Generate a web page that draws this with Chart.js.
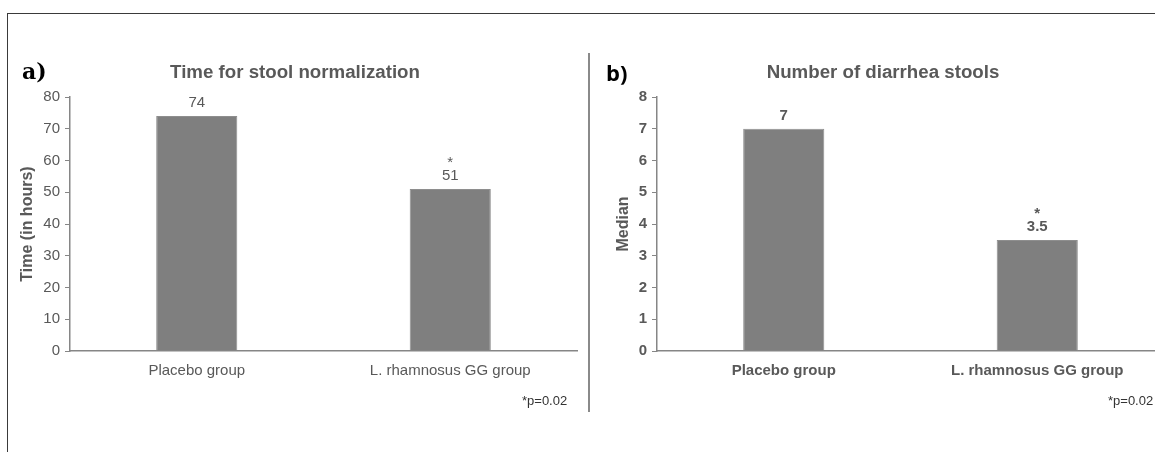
<!DOCTYPE html>
<html lang="en">
<head>
    <meta charset="UTF-8">
    <title>Stool normalization and diarrhea stools</title>
    <script src="https://cdn.jsdelivr.net/npm/chart.js"></script>
    <style>
        html, body { margin: 0; padding: 0; background: #fff; }
        body { width: 1155px; height: 452px; position: relative; overflow: hidden; font-family: 'Liberation Sans', Arial, sans-serif; }
        .frame { position: absolute; left: 7px; top: 13px; right: -10px; bottom: -10px; border-top: 1.5px solid #3a3a3a; border-left: 1.5px solid #3a3a3a; }
        .divider { position: absolute; left: 588px; top: 53px; width: 1.5px; height: 359px; background: #8a8a8a; }
        .box { position: absolute; }
        .panel-tag { position: absolute; font-weight: bold; font-size: 22px; color: #000; }
        .title { position: absolute; font-weight: bold; font-size: 18.7px; color: #595959; transform: translateX(-50%); white-space: nowrap; }
        .note { position: absolute; font-size: 13px; color: #333; white-space: nowrap; }
    </style>
</head>
<body>
    <div class="frame"></div>
    <div class="divider"></div>

    <div class="box" style="left:0; top:0; width:590px; height:452px;">
        <canvas id="chartA"></canvas>
    </div>
    <div class="box" style="left:590px; top:0; width:580px; height:452px;">
        <canvas id="chartB"></canvas>
    </div>

    <div class="panel-tag" style="left:22px; top:58px; font-family:'DejaVu Serif', serif;">a)</div>
    <div class="title" style="left:295px; top:61px;">Time for stool normalization</div>
    <div class="note" style="left:522px; top:393px;">*p=0.02</div>

    <div class="panel-tag" style="left:606px; top:57px; font-family:'Open Sans', sans-serif;">b)</div>
    <div class="title" style="left:883px; top:61px;">Number of diarrhea stools</div>
    <div class="note" style="left:1108px; top:393px;">*p=0.02</div>

    <script>
        // data
        const groups = ['Placebo group', 'L. rhamnosus GG group'];
        const timeHours = [74, 51];
        const diarrheaMedian = [7, 3.5];
        const significance = ['', '*'];
        const timeTicks = [0, 10, 20, 30, 40, 50, 60, 70, 80];
        const medianTicks = [0, 1, 2, 3, 4, 5, 6, 7, 8];

        const textColor = '#595959';
        const axisColor = '#868686';
        const barColor = '#7f7f7f';

        // value + significance mark above each bar
        const valueLabels = {
            id: 'valueLabels',
            afterDatasetsDraw(chart, args, opts) {
                const ctx = chart.ctx;
                const meta = chart.getDatasetMeta(0);
                const values = chart.data.datasets[0].data;
                ctx.save();
                ctx.fillStyle = textColor;
                ctx.textAlign = 'center';
                ctx.textBaseline = 'middle';
                meta.data.forEach((bar, i) => {
                    ctx.font = opts.font;
                    ctx.fillText(String(values[i]), bar.x, bar.y - 13);
                    if (opts.marks[i]) {
                        ctx.fillText(opts.marks[i], bar.x, bar.y - 26);
                    }
                });
                ctx.restore();
            }
        };

        function makeChart(id, values, ticks, yTitle, bold, yWidth, titlePad, padRight) {
            const weight = bold ? 'bold' : 'normal';
            const font = { family: 'Liberation Sans', size: 15, weight: weight };
            return new Chart(document.getElementById(id), {
                type: 'bar',
                data: {
                    labels: groups,
                    datasets: [{
                        data: values,
                        backgroundColor: barColor,
                        borderColor: '#8e8e8e',
                        borderWidth: 1,
                        barPercentage: 0.32,
                        categoryPercentage: 1
                    }]
                },
                options: {
                    responsive: true,
                    maintainAspectRatio: false,
                    animation: false,
                    layout: { padding: { top: 97, right: padRight, bottom: 61, left: 0 } },
                    plugins: {
                        legend: { display: false },
                        tooltip: { enabled: false },
                        valueLabels: {
                            font: weight + ' 15px "Liberation Sans"',
                            marks: significance
                        }
                    },
                    scales: {
                        x: {
                            grid: { display: false },
                            border: { display: true, color: axisColor, width: 1.5 },
                            ticks: { color: textColor, font: font, padding: 3 },
                            afterFit: s => { s.height = 40; }
                        },
                        y: {
                            min: ticks[0],
                            max: ticks[ticks.length - 1],
                            afterBuildTicks: s => { s.ticks = ticks.map(v => ({ value: v })); },
                            grid: { drawOnChartArea: false, drawTicks: true, tickLength: 5, color: axisColor },
                            border: { display: true, color: axisColor, width: 1.5 },
                            ticks: { color: textColor, font: font, padding: 5 },
                            title: {
                                display: true,
                                text: yTitle,
                                color: textColor,
                                font: { family: 'Liberation Sans', size: 16, weight: 'bold' },
                                padding: { top: titlePad, bottom: 0 }
                            },
                            afterFit: s => { s.width = yWidth; }
                        }
                    }
                },
                plugins: [valueLabels]
            });
        }

        makeChart('chartA', timeHours, timeTicks, 'Time (in hours)', false, 70, 18, 13);
        makeChart('chartB', diarrheaMedian, medianTicks, 'Median', true, 67, 24, 6);
    </script>
</body>
</html>
